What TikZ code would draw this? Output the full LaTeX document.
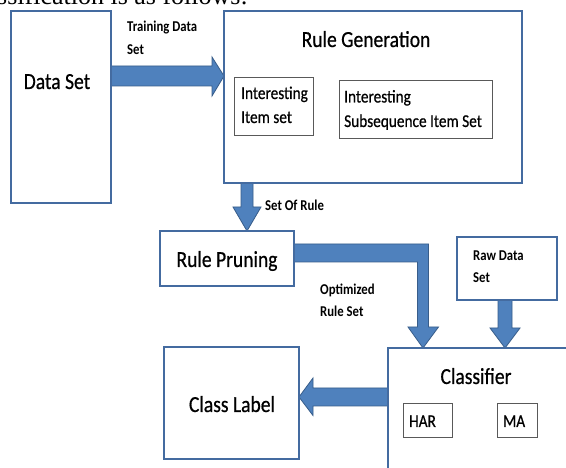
\documentclass[tikz,border=0pt]{standalone}
\usepackage{fontspec}
\setmainfont{Carlito}[FakeStretch=0.85]
\newfontfamily\heavyf{Carlito}[FakeStretch=0.85, FakeBold=0.6]
\newfontfamily\timesf{Liberation Serif}
\definecolor{boxblue}{RGB}{68,107,160}
\definecolor{arrowfill}{RGB}{79,129,189}
\definecolor{arrowedge}{RGB}{56,93,138}
\pgfdeclarelayer{bg}
\pgfdeclarelayer{arrows}
\pgfsetlayers{bg,arrows,main}
\begin{document}
\begin{tikzpicture}[x=1pt,y=-1pt,
  outerbox/.style={draw=boxblue, line width=1.6pt, inner sep=0pt, outer sep=0pt},
  innerbox/.style={draw=black!65, line width=0.7pt, inner sep=0pt, outer sep=0pt},
  blockarrow/.style={fill=arrowfill, draw=arrowedge, line width=0.8pt, line join=miter},
  bigtxt/.style={font=\heavyf\fontsize{23}{27}\selectfont, inner sep=0pt},
  midtxt/.style={font=\heavyf\fontsize{18}{22}\selectfont, inner sep=0pt},
  smalltxt/.style={font=\bfseries\fontsize{15}{18}\selectfont, inner sep=0pt}]
\useasboundingbox (0,0) rectangle (566,468);
\clip (0,0) rectangle (566,468);
\begin{pgfonlayer}{bg}
\fill[white] (0,0) rectangle (566,468);
\end{pgfonlayer}

% clipped running text above the figure
\node[anchor=base west, inner sep=0pt, font=\timesf\fontsize{26}{30}\selectfont] (cap) at (-3,4.5) {ssification is as follows:};

% boxes
\node[outerbox, minimum width=100pt, minimum height=192pt] (ds) at (61,107) {};
\node[outerbox, minimum width=298pt, minimum height=172pt] (rg) at (373,97) {};
\node[innerbox, minimum width=79pt, minimum height=58pt] (iis) at (273.5,106) {};
\node[innerbox, minimum width=153pt, minimum height=58pt] (iss) at (415.5,109) {};
\node[outerbox, minimum width=134pt, minimum height=55pt] (rp) at (227,258.5) {};
\node[outerbox, minimum width=100pt, minimum height=63pt] (raw) at (507,268.5) {};
\node[outerbox, minimum width=212pt, minimum height=152pt] (cls) at (494,424) {};
\node[innerbox, minimum width=49pt, minimum height=34pt] (har) at (427.5,420) {};
\node[innerbox, minimum width=40pt, minimum height=34pt] (ma) at (517,420) {};
\node[outerbox, minimum width=135pt, minimum height=112pt] (cl) at (231.5,403) {};

% texts
\node[bigtxt, anchor=base] (dsT) at (57,89) {Data Set};
\node[bigtxt, anchor=base] (rgT) at (366,47) {Rule Generation};
\node[midtxt, anchor=base west] (iis1) at (241,99) {Interesting};
\node[midtxt, anchor=base west] (iis2) at (241,123) {Item set};
\node[midtxt, anchor=base west] (iss1) at (344,102.5) {Interesting};
\node[midtxt, anchor=base west] (iss2) at (344,127) {Subsequence Item Set};
\node[smalltxt, anchor=base west] (tl1) at (127,32) {Training Data};
\node[smalltxt, anchor=base west] (tl2) at (127,55) {Set};
\node[smalltxt, anchor=base west] (sor) at (265,210.5) {Set Of Rule};
\node[bigtxt, anchor=base] (rpT) at (227,267) {Rule Pruning};
\node[smalltxt, anchor=base west] (op1) at (320,295) {Optimized};
\node[smalltxt, anchor=base west] (op2) at (320,316.5) {Rule Set};
\node[smalltxt, anchor=base west] (rw1) at (473,260.5) {Raw Data};
\node[smalltxt, anchor=base west] (rw2) at (473,283) {Set};
\node[bigtxt, anchor=base] (clsT) at (476,384) {Classifier};
\node[midtxt, anchor=base west] (harT) at (409,427) {HAR};
\node[midtxt, anchor=base west] (maT) at (503,427) {MA};
\node[bigtxt, anchor=base] (clT) at (232,412) {Class Label};

% block arrows
\begin{pgfonlayer}{arrows}
\draw[blockarrow] (ds.east |- 0,66) -- (212,66) -- (212,57) -- (rg.west |- 0,76)
  -- (212,96) -- (212,86) -- (ds.east |- 0,86) -- cycle;
\draw[blockarrow] (rg.south -| 241,0) -- (241,207) -- (233,207) -- (rp.north -| 247,0)
  -- (261,207) -- (253,207) -- (rg.south -| 253,0) -- cycle;
\draw[blockarrow] (rp.east |- 0,244) -- (428.5,244) -- (428.5,327) -- (438.5,327)
  -- (cls.north -| 423,0) -- (408,327) -- (417.5,327) -- (417.5,262)
  -- (rp.east |- 0,262) -- cycle;
\draw[blockarrow] (raw.south -| 498,0) -- (498,328) -- (490,328) -- (cls.north -| 505,0)
  -- (520,328) -- (512,328) -- (raw.south -| 512,0) -- cycle;
\draw[blockarrow] (cls.west |- 0,388) -- (313,388) -- (313,378) -- (cl.east |- 0,397)
  -- (313,415.5) -- (313,406) -- (cls.west |- 0,406) -- cycle;
\end{pgfonlayer}
\end{tikzpicture}
\end{document}
